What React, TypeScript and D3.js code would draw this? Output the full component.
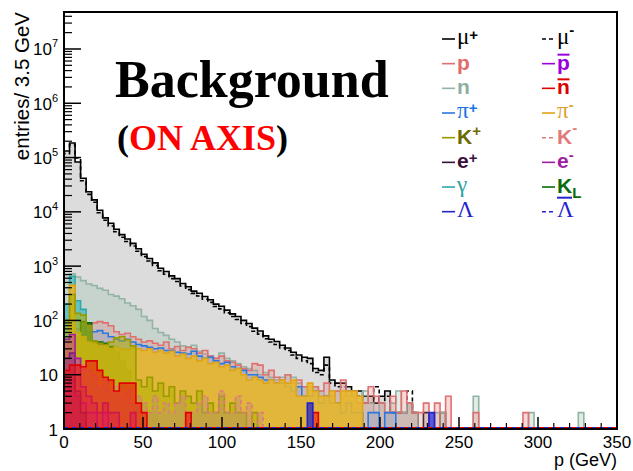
import React from "react";
import * as d3 from "d3";

// ---------- data ----------
const BIN_WIDTH = 3.5; // GeV per bin
const N_BINS = 100;
const P_MAX = 350;
const COUNT_MIN = 1;
const COUNT_MAX = 4.8e7;
const X_MAJOR_TICKS = [0, 50, 100, 150, 200, 250, 300, 350];
const Y_DECADE_EXPONENTS = [0, 1, 2, 3, 4, 5, 6, 7];
const Y_AXIS_TITLE = "entries/ 3.5 GeV";
const X_AXIS_TITLE = "p (GeV)";
const TITLE = "Background";
const SUBTITLE = "ON AXIS";

// entries per 3.5 GeV bin, bin i = [3.5 i, 3.5 (i+1)) GeV
const MU_PLUS = [
  132000, 186000, 83000, 41700, 23400, 16600, 10700, 7760, 6170, 4790,
  3800, 3160, 2630, 2090, 1660, 1380, 1150, 912, 794, 661,
  589, 479, 417, 347, 316, 275, 240, 200, 182, 155,
  132, 118, 100, 88, 72, 64, 52, 45, 41, 35,
  31, 26, 23, 21, 20, 13, 12, 21, 8, 7,
  7, 6, 5, 5, 4, 4, 3, 4, 5, 2,
  2, 2, 3, 2, 1, 2, 1, 1, 2, 1,
  1, 1,
];
const MU_MINUS = [
  118000, 172000, 98000, 37500, 21000, 15000, 9600, 7000, 5500, 4300,
  3400, 2850, 2350, 1880, 1500, 1240, 1030, 820, 710, 590,
  520, 430, 370, 315, 282, 245, 215, 180, 163, 138,
  118, 104, 88, 77, 63, 56, 46, 40, 36, 31,
  28, 23, 20, 18, 16, 11, 10, 15, 7, 6,
  6, 5, 4, 4, 3, 3, 6, 3, 4, 2,
  2, 2, 5, 2, 1, 1, 1, 0, 1, 0,
];
const NEUTRON = [
  700, 720, 630, 540, 470, 440, 390, 360, 300, 280,
  250, 210, 186, 160, 118, 100, 71, 60, 53, 45,
  40, 34, 32, 35, 27, 24, 22, 20, 25, 20,
  18, 16, 14, 13, 12, 10, 11, 9, 8, 9,
  10, 9, 7, 6, 5, 6, 5, 4, 5, 5,
  4, 5, 4, 3, 5, 3, 2, 3, 2, 3,
  5, 2, 3, 2, 1, 1, 0, 2, 2, 0,
  0, 0, 0, 0, 4, 0, 0, 0, 0, 0,
  0, 0, 0, 0, 2, 0, 0, 0, 0, 0,
  0, 0, 0, 2,
];
const PROTON = [
  30, 60, 70, 80, 85, 90, 95, 90, 80, 62,
  55, 58, 50, 45, 40, 42, 38, 35, 40, 30,
  33, 28, 32, 30, 25, 28, 22, 20, 22, 18,
  17, 15, 13, 12, 16, 15, 10, 12, 9, 8,
  10, 7, 8, 6, 6, 6, 5, 7, 4, 5,
  8, 4, 5, 3, 3, 6, 4, 3, 2, 4,
  2, 5, 3, 2, 2, 3, 0, 3, 0, 4,
  0, 0, 0, 0, 2, 0, 0, 0, 0, 0,
  0, 0, 0, 2,
];
const PI_PLUS = [
  20, 40, 50, 55, 60, 62, 65, 58, 50, 45,
  42, 45, 40, 36, 34, 32, 30, 31, 28, 28,
  26, 25, 24, 27, 22, 20, 21, 18, 16, 17,
  14, 13, 12, 10, 10, 9, 8, 8, 7, 7,
  6, 5, 6, 4, 4, 5, 3, 4, 3, 3,
  2, 3, 2, 2, 1, 2, 2, 1, 2, 2,
];
const PI_MINUS = [
  40, 450, 60, 50, 40, 38, 34, 35, 30, 32,
  30, 29, 31, 30, 28, 30, 26, 28, 25, 27,
  22, 24, 20, 22, 18, 20, 16, 17, 14, 15,
  12, 13, 10, 8, 9, 8, 7, 8, 7, 8,
  7, 8, 4, 4, 7, 5, 4, 4, 5, 3,
  5, 5, 5, 4,
];
const K_PLUS = [
  100, 300, 135, 125, 80, 42, 38, 36, 40, 48,
  50, 44, 34, 8, 6, 9, 5, 7, 4, 6,
  3, 5, 4, 3, 5, 2, 3, 2, 4, 2,
  3, 2, 2, 1, 2,
];
const K_MINUS = [
  10, 25, 20, 15, 12, 10, 6, 8, 5, 6,
  4, 5, 3, 4, 3, 2, 4, 2, 3, 2,
  3, 4, 2, 2, 3, 4, 2, 2, 5, 2,
  2, 4, 2, 3, 1, 2,
];
const K_LONG = [
  8, 25, 50, 95, 90, 42, 40, 38, 33, 26,
  18, 12, 7, 4, 3, 2, 2, 1,
];
const GAMMA = [200, 650, 230, 160, 60, 30, 20, 12, 8, 6, 5, 3, 4, 2, 2];
const N_BAR = [
  12, 15, 15, 14, 18, 18, 12, 9, 8, 5,
  7, 7, 7, 3, 2, 1, 1, 0, 0, 0,
  0, 0, 2, 0, 0, 0, 0, 0, 0, 0,
  0, 0, 0, 0, 0, 0, 0, 0, 0, 0,
  0, 0, 0, 0, 0, 2,
];
const P_BAR = [5, 8, 4, 3, 2, 2, 1, 2];
const E_MINUS = [45, 55, 20, 6, 4, 3, 2, 3, 2, 2, 1, 1, 2];
const E_PLUS = [20, 25, 5, 2, 1];
const LAMBDA = [
  1, 1, 1, 1, 0, 0, 0, 0, 0, 0,
  0, 0, 0, 0, 0, 0, 0, 0, 0, 0,
  0, 0, 0, 0, 0, 0, 0, 0, 0, 0,
  0, 0, 0, 0, 0, 0, 0, 0, 0, 0,
  0, 0, 0, 0, 3, 0, 0, 0, 0, 0,
  0, 0, 0, 0, 0, 0, 0, 0, 0, 0,
  0, 0, 0, 0, 0, 0, 2,
];
const LAMBDA_BAR = [1, 1, 1, 1];

// ---------- styles ----------
type Style = { stroke: string; fill: string; fillOpacity: number; dash?: string; text: string };
const STYLES: Record<string, Style> = {
  muPlus: { stroke: "#000000", fill: "#dcdcdc", fillOpacity: 1, text: "#000000" },
  muMinus: { stroke: "#000000", fill: "none", fillOpacity: 0, dash: "4,3", text: "#000000" },
  n: { stroke: "#93b3a3", fill: "#98c4ac", fillOpacity: 0.3, text: "#8fae9f" },
  p: { stroke: "#e07070", fill: "#e08080", fillOpacity: 0.3, text: "#e06b6b" },
  piPlus: { stroke: "#2a78e0", fill: "#2a78e0", fillOpacity: 0.15, text: "#1a73e6" },
  gamma: { stroke: "#30a8a8", fill: "#30b8c0", fillOpacity: 0.65, text: "#2aa0a0" },
  kLong: { stroke: "#0a6a0a", fill: "#2a7a2a", fillOpacity: 0.75, text: "#0b6b0b" },
  piMinus: { stroke: "#e0a418", fill: "#e8b628", fillOpacity: 0.88, text: "#e0a030" },
  kPlus: { stroke: "#9a9a00", fill: "#b0b000", fillOpacity: 0.55, text: "#6b6b00" },
  kMinus: { stroke: "#e07a7a", fill: "#c09070", fillOpacity: 0.45, dash: "4,3", text: "#e07a7a" },
  pBar: { stroke: "#a000e0", fill: "#b040e0", fillOpacity: 0.4, text: "#9900dd" },
  ePlus: { stroke: "#3a0f3a", fill: "#5a205a", fillOpacity: 0.5, text: "#3a0f3a" },
  eMinus: { stroke: "#a01ea0", fill: "#c030a0", fillOpacity: 0.5, text: "#a01ea0" },
  nBar: { stroke: "#e00000", fill: "#f01010", fillOpacity: 0.6, text: "#dd0000" },
  lambda: { stroke: "#2323cc", fill: "#2323cc", fillOpacity: 0.75, text: "#2323cc" },
  lambdaBar: { stroke: "#2323cc", fill: "none", fillOpacity: 0, dash: "4,3", text: "#2323cc" },
};

const COUNTS: Record<string, number[]> = {
  muPlus: MU_PLUS, muMinus: MU_MINUS, n: NEUTRON, p: PROTON, piPlus: PI_PLUS,
  gamma: GAMMA, piMinus: PI_MINUS, kPlus: K_PLUS, kLong: K_LONG, kMinus: K_MINUS,
  pBar: P_BAR, nBar: N_BAR, ePlus: E_PLUS, eMinus: E_MINUS, lambda: LAMBDA, lambdaBar: LAMBDA_BAR,
};

const DRAW_ORDER = [
  "muPlus", "muMinus", "n", "p", "piPlus", "gamma", "kLong", "piMinus", "kPlus",
  "kMinus", "pBar", "ePlus", "eMinus", "nBar", "lambda", "lambdaBar",
];
const LEGEND_LEFT = ["muPlus", "p", "n", "piPlus", "kPlus", "ePlus", "gamma", "lambda"];
const LEGEND_RIGHT = ["muMinus", "pBar", "nBar", "piMinus", "kMinus", "eMinus", "kLong", "lambdaBar"];

// ---------- layout ----------
const W = 633;
const H = 471;
const FRAME = { left: 64, right: 617, top: 12, bottom: 429 };
const SANS = "'Liberation Sans', Arial, Helvetica, sans-serif";
const SERIF = "'Liberation Serif', 'Times New Roman', serif";

const x = d3.scaleLinear().domain([0, P_MAX]).range([FRAME.left, FRAME.right]);
const y = d3.scaleLog().domain([COUNT_MIN, COUNT_MAX]).range([FRAME.bottom, FRAME.top]);

function stepPath(counts: number[], closed: boolean): string {
  const base = y(COUNT_MIN);
  let d = `M${x(0)},${base}`;
  for (let i = 0; i < N_BINS; i++) {
    const c = counts[i] ?? 0;
    const yy = c >= COUNT_MIN ? y(c) : base;
    d += `L${x(i * BIN_WIDTH)},${yy}L${x((i + 1) * BIN_WIDTH)},${yy}`;
  }
  d += `L${x(P_MAX)},${base}`;
  if (closed) d += "Z";
  return d;
}

function Sup({ t, dy }: { t: string; dy: number }) {
  return (
    <tspan fontFamily={SANS} fontWeight="bold" fontSize={15} dy={dy}>
      {t}
    </tspan>
  );
}

function LegendLabel({ k, lx, ly }: { k: string; lx: number; ly: number }) {
  const c = STYLES[k].text;
  const bold = { fontFamily: SANS, fontWeight: "bold" as const, fontSize: 21 };
  const greek = { fontFamily: SERIF, fontSize: 23 };
  const b = ly + 6;
  const gb = ly + 5;
  switch (k) {
    case "muPlus":
      return <text x={lx} y={gb} fill={c}><tspan {...greek}>μ</tspan><Sup t="+" dy={-4} /></text>;
    case "muMinus":
      return <text x={lx} y={gb} fill={c}><tspan {...greek}>μ</tspan><Sup t="-" dy={-9} /></text>;
    case "p":
      return <text x={lx} y={b} fill={c} {...bold}>p</text>;
    case "pBar":
      return (
        <g>
          <text x={lx} y={b} fill={c} {...bold}>p</text>
          <line x1={lx + 0.5} x2={lx + 12.5} y1={b - 15} y2={b - 15} stroke={c} strokeWidth={2} />
        </g>
      );
    case "n":
      return <text x={lx} y={b} fill={c} {...bold}>n</text>;
    case "nBar":
      return (
        <g>
          <text x={lx} y={b} fill={c} {...bold}>n</text>
          <line x1={lx + 0.5} x2={lx + 12.5} y1={b - 15} y2={b - 15} stroke={c} strokeWidth={2} />
        </g>
      );
    case "piPlus":
      return <text x={lx} y={gb} fill={c}><tspan {...greek}>π</tspan><Sup t="+" dy={-5} /></text>;
    case "piMinus":
      return <text x={lx} y={gb} fill={c}><tspan {...greek}>π</tspan><Sup t="-" dy={-8} /></text>;
    case "kPlus":
      return <text x={lx} y={b} fill={c}><tspan {...bold}>K</tspan><Sup t="+" dy={-8} /></text>;
    case "kMinus":
      return <text x={lx} y={b} fill={c}><tspan {...bold}>K</tspan><Sup t="-" dy={-11} /></text>;
    case "ePlus":
      return <text x={lx} y={b} fill={c}><tspan {...bold}>e</tspan><Sup t="+" dy={-5} /></text>;
    case "eMinus":
      return <text x={lx} y={b} fill={c}><tspan {...bold}>e</tspan><Sup t="-" dy={-8} /></text>;
    case "gamma":
      return <text x={lx} y={gb} fill={c} {...greek}>γ</text>;
    case "kLong":
      return (
        <text x={lx} y={b} fill={c}>
          <tspan {...bold}>K</tspan>
          <tspan fontFamily={SANS} fontWeight="bold" fontSize={15} dy={5}>L</tspan>
        </text>
      );
    case "lambda":
      return <text x={lx} y={gb} fill={c} {...greek}>Λ</text>;
    case "lambdaBar":
      return (
        <g>
          <text x={lx} y={gb} fill={c} {...greek}>Λ</text>
          <line x1={lx} x2={lx + 15} y1={gb - 19} y2={gb - 19} stroke={c} strokeWidth={2} />
        </g>
      );
  }
  return null;
}

export default function App() {
  const base = y(COUNT_MIN);

  const yMajor = Y_DECADE_EXPONENTS.map((e) => Math.pow(10, e));
  const yMinor: number[] = [];
  Y_DECADE_EXPONENTS.forEach((e) => {
    for (let m = 2; m <= 9; m++) {
      const v = m * Math.pow(10, e);
      if (v <= COUNT_MAX) yMinor.push(v);
    }
  });
  const xMinor = d3.range(0, P_MAX + 0.001, 10).filter((v) => v % 50 !== 0);

  const rowY = (i: number) => 39 + i * 24.67;

  return (
    <svg
      width={W}
      height={H}
      viewBox={`0 0 ${W} ${H}`}
      style={{ position: "absolute", left: 0, top: 0, display: "block", background: "#ffffff" }}
    >
      <rect x={0} y={0} width={W} height={H} fill="#ffffff" />

      {DRAW_ORDER.map((k) => {
        const s = STYLES[k];
        const counts = COUNTS[k];
        return (
          <g key={k}>
            {s.fill !== "none" && (
              <path d={stepPath(counts, true)} fill={s.fill} fillOpacity={s.fillOpacity} stroke="none" />
            )}
            <path
              d={stepPath(counts, false)}
              fill="none"
              stroke={s.stroke}
              strokeWidth={1.6}
              strokeDasharray={s.dash}
            />
          </g>
        );
      })}

      <line x1={x(0)} x2={x(P_MAX)} y1={base - 1} y2={base - 1} stroke="#e00000" strokeWidth={2} />
      <line x1={x(0)} x2={x(P_MAX)} y1={base - 1} y2={base - 1} stroke="#2323cc" strokeWidth={2} strokeDasharray="4,4" />

      <rect
        x={FRAME.left}
        y={FRAME.top}
        width={FRAME.right - FRAME.left}
        height={FRAME.bottom - FRAME.top}
        fill="none"
        stroke="#000"
        strokeWidth={2}
      />

      {yMajor.map((v) => (
        <line key={"ym" + v} x1={FRAME.left} x2={FRAME.left + 17} y1={y(v)} y2={y(v)} stroke="#000" strokeWidth={1.5} />
      ))}
      {yMinor.map((v) => (
        <line key={"yn" + v} x1={FRAME.left} x2={FRAME.left + 8} y1={y(v)} y2={y(v)} stroke="#000" strokeWidth={1.2} />
      ))}
      {X_MAJOR_TICKS.map((v) => (
        <line key={"xm" + v} x1={x(v)} x2={x(v)} y1={FRAME.bottom} y2={FRAME.bottom - 12} stroke="#000" strokeWidth={1.5} />
      ))}
      {xMinor.map((v) => (
        <line key={"xn" + v} x1={x(v)} x2={x(v)} y1={FRAME.bottom} y2={FRAME.bottom - 6} stroke="#000" strokeWidth={1.2} />
      ))}

      {Y_DECADE_EXPONENTS.map((e) => {
        const ty = y(Math.pow(10, e)) + 6.5;
        if (e === 0)
          return <text key={"yl" + e} x={58} y={ty} textAnchor="end" fontFamily={SANS} fontSize={17}>1</text>;
        if (e === 1)
          return <text key={"yl" + e} x={58} y={ty} textAnchor="end" fontFamily={SANS} fontSize={17}>10</text>;
        return (
          <text key={"yl" + e} x={58} y={ty} textAnchor="end" fontFamily={SANS} fontSize={17}>
            10<tspan fontSize={11} dy={-8}>{e}</tspan>
          </text>
        );
      })}
      {X_MAJOR_TICKS.map((v) => (
        <text key={"xl" + v} x={x(v)} y={448} textAnchor="middle" fontFamily={SANS} fontSize={17}>
          {v}
        </text>
      ))}

      <text x={FRAME.right} y={466} textAnchor="end" fontFamily={SANS} fontSize={18}>{X_AXIS_TITLE}</text>
      <text transform={`translate(29,${FRAME.top}) rotate(-90)`} textAnchor="end" fontFamily={SANS} fontSize={20.5}>
        {Y_AXIS_TITLE}
      </text>

      <text x={115} y={97} fontFamily={SERIF} fontWeight="bold" fontSize={52} fill="#000">{TITLE}</text>
      <text x={117} y={150} fontFamily={SERIF} fontWeight="bold" fontSize={36}>
        <tspan fill="#000">(</tspan>
        <tspan fill="#ff0000">{SUBTITLE}</tspan>
        <tspan fill="#000">)</tspan>
      </text>

      {LEGEND_LEFT.map((k, i) => (
        <g key={"ll" + k}>
          <line x1={442} x2={455} y1={rowY(i)} y2={rowY(i)} stroke={STYLES[k].stroke} strokeWidth={1.6} strokeDasharray={STYLES[k].dash} />
          <LegendLabel k={k} lx={457} ly={rowY(i)} />
        </g>
      ))}
      {LEGEND_RIGHT.map((k, i) => (
        <g key={"lr" + k}>
          <line x1={542} x2={555} y1={rowY(i)} y2={rowY(i)} stroke={STYLES[k].stroke} strokeWidth={1.6} strokeDasharray={STYLES[k].dash} />
          <LegendLabel k={k} lx={557} ly={rowY(i)} />
        </g>
      ))}
    </svg>
  );
}
